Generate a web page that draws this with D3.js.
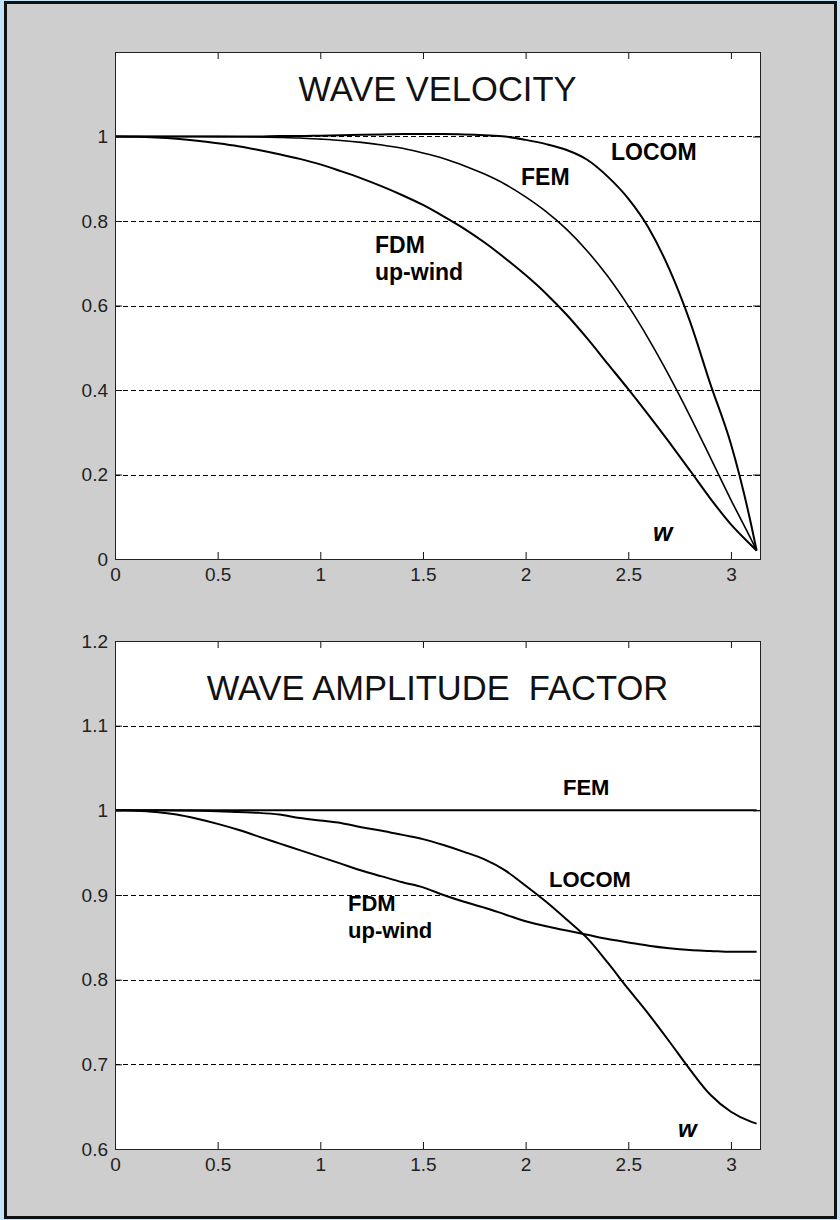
<!DOCTYPE html>
<html>
<head>
<meta charset="utf-8">
<script src="https://cdn.jsdelivr.net/npm/d3@7"></script>
<style>
  html, body { margin: 0; padding: 0; background: #c4e3f8; }
  svg { display: block; }
  text { font-family: "Liberation Sans", Arial, Helvetica, sans-serif; }
</style>
</head>
<body>
<svg id="fig" width="840" height="1220"></svg>
<script>
// Normalised wave number w (0 .. pi)
const omega = [0, 0.1, 0.2, 0.3, 0.4, 0.5, 0.6, 0.7, 0.8, 0.9, 1.0, 1.1, 1.2, 1.3, 1.4, 1.5,
               1.6, 1.7, 1.8, 1.9, 2.0, 2.1, 2.2, 2.3, 2.4, 2.5, 2.6, 2.7, 2.8, 2.9, 3.0, 3.1, 3.125];
const omegaMax = 3.1416;

// Relative wave velocity
const velocityFDM = [1, 0.9994, 0.9975, 0.9944, 0.990, 0.984, 0.977, 0.968, 0.958, 0.947, 0.934, 0.918,
                     0.901, 0.882, 0.861, 0.838, 0.811, 0.782, 0.749, 0.712, 0.672, 0.628, 0.578, 0.522,
                     0.462, 0.402, 0.340, 0.276, 0.210, 0.143, 0.082, 0.032, 0.020];
const velocityFEM = [1, 1, 1, 1, 0.9999, 0.9997, 0.9993, 0.9987, 0.9977, 0.9963, 0.9937, 0.9906,
                     0.9862, 0.980, 0.972, 0.961, 0.948, 0.931, 0.911, 0.887, 0.857, 0.822, 0.780, 0.729,
                     0.669, 0.599, 0.520, 0.433, 0.339, 0.240, 0.140, 0.045, 0.020];
const velocityLOCOM = [1, 1, 1, 1, 1, 1, 1, 1, 1.001, 1.001, 1.002, 1.003, 1.004, 1.005, 1.006, 1.006,
                       1.006, 1.005, 1.003, 1.000, 0.992, 0.982, 0.968, 0.945, 0.905, 0.853, 0.783, 0.686,
                       0.563, 0.414, 0.272, 0.078, 0.020];

// Wave amplitude factor
const amplitudeFDM = [1, 0.9995, 0.998, 0.995, 0.990, 0.984, 0.977, 0.969, 0.961, 0.953, 0.945, 0.937,
                      0.929, 0.922, 0.915, 0.909, 0.900, 0.892, 0.885, 0.877, 0.869, 0.863, 0.858, 0.853,
                      0.848, 0.844, 0.840, 0.837, 0.835, 0.834, 0.833, 0.833, 0.833];
const amplitudeFEM = [1, 1, 1, 1, 1, 1, 1, 1, 1, 1, 1, 1, 1, 1, 1, 1,
                      1, 1, 1, 1, 1, 1, 1, 1, 1, 1, 1, 1, 1, 1, 1, 1, 1];
const amplitudeLOCOM = [1, 1, 1, 0.9998, 0.9995, 0.999, 0.998, 0.997, 0.995, 0.991, 0.988, 0.985,
                        0.980, 0.976, 0.971, 0.966, 0.959, 0.951, 0.942, 0.929, 0.911, 0.892, 0.871, 0.849,
                        0.820, 0.789, 0.759, 0.727, 0.694, 0.664, 0.644, 0.632, 0.630];

// Tick values
const omegaTicks = [0, 0.5, 1, 1.5, 2, 2.5, 3];
const velocityTicks = [0, 0.2, 0.4, 0.6, 0.8, 1];
const velocityGrid = [0.2, 0.4, 0.6, 0.8, 1];
const amplitudeTicks = [0.6, 0.7, 0.8, 0.9, 1, 1.1, 1.2];
const amplitudeGrid = [0.7, 0.8, 0.9, 1, 1.1];

const svg = d3.select("#fig");

// Figure window: grey panel with a dark frame
svg.append("rect")
  .attr("x", 5.5).attr("y", 2.5).attr("width", 830).attr("height", 1215)
  .attr("fill", "#cecece").attr("stroke", "#111").attr("stroke-width", 3);

const left = 115, right = 760;
const fmt = d3.format("~g");

function panel(opt) {
  const x = d3.scaleLinear().domain([0, omegaMax]).range([left, right]);
  const y = d3.scaleLinear().domain(opt.yDomain).range([opt.bottom, opt.top]);
  const g = svg.append("g");

  g.append("rect")
    .attr("x", left).attr("y", opt.top)
    .attr("width", right - left).attr("height", opt.bottom - opt.top)
    .attr("fill", "#fff");

  // dashed horizontal grid
  g.append("g").selectAll("line").data(opt.grid).join("line")
    .attr("x1", left).attr("x2", right)
    .attr("y1", d => Math.round(y(d)) + 0.5).attr("y2", d => Math.round(y(d)) + 0.5)
    .attr("stroke", "#000").attr("stroke-width", 1)
    .attr("stroke-dasharray", "5,3");

  // series
  const line = d3.line()
    .x((d, i) => x(omega[i]))
    .y(d => y(d))
    .curve(d3.curveMonotoneX);
  opt.series.forEach(s => {
    g.append("path").datum(s.values)
      .attr("d", line)
      .attr("fill", "none").attr("stroke", "#000")
      .attr("stroke-width", s.width)
      .attr("stroke-linejoin", "round");
  });

  // axes
  const styleAxis = sel => {
    sel.select(".domain").remove();
    sel.selectAll(".tick line").attr("stroke", "#111");
    sel.selectAll(".tick text").attr("fill", "#222")
      .style("font-size", "19px");
  };
  g.append("g").attr("transform", `translate(0,${opt.bottom})`)
    .call(d3.axisBottom(x).tickValues(omegaTicks).tickFormat(fmt)
      .tickSizeInner(-7).tickSizeOuter(0).tickPadding(9))
    .call(styleAxis);
  g.append("g").attr("transform", `translate(0,${opt.top})`)
    .call(d3.axisTop(x).tickValues(omegaTicks).tickFormat("")
      .tickSizeInner(-7).tickSizeOuter(0))
    .call(styleAxis);
  g.append("g").attr("transform", `translate(${left},0)`)
    .call(d3.axisLeft(y).tickValues(opt.ticks).tickFormat(fmt)
      .tickSizeInner(-7).tickSizeOuter(0).tickPadding(7))
    .call(styleAxis);
  g.append("g").attr("transform", `translate(${right},0)`)
    .call(d3.axisRight(y).tickValues(opt.ticks).tickFormat("")
      .tickSizeInner(-7).tickSizeOuter(0))
    .call(styleAxis);

  // plot box
  g.append("rect")
    .attr("x", left + 0.5).attr("y", opt.top + 0.5)
    .attr("width", right - left).attr("height", opt.bottom - opt.top)
    .attr("fill", "none").attr("stroke", "#222").attr("stroke-width", 1);

  // title
  g.append("text")
    .attr("x", (left + right) / 2).attr("y", opt.titleY)
    .attr("text-anchor", "middle")
    .style("font-size", "34.5px").style("white-space", "pre")
    .attr("fill", "#111")
    .text(opt.title);

  // curve annotations
  opt.labels.forEach(l => {
    g.append("text")
      .attr("x", l.x).attr("y", l.y)
      .style("font-size", l.size + "px")
      .style("font-weight", "bold")
      .style("font-style", l.italic ? "italic" : "normal")
      .attr("fill", "#000")
      .text(l.text);
  });
}

panel({
  top: 52, bottom: 559, yDomain: [0, 1.2],
  ticks: velocityTicks, grid: velocityGrid,
  title: "WAVE VELOCITY", titleY: 101,
  series: [
    { values: velocityFDM, width: 2 },
    { values: velocityFEM, width: 1.6 },
    { values: velocityLOCOM, width: 2 }
  ],
  labels: [
    { text: "LOCOM", x: 611, y: 160, size: 23 },
    { text: "FEM", x: 521, y: 185, size: 23 },
    { text: "FDM", x: 375, y: 253, size: 23 },
    { text: "up-wind", x: 375, y: 280, size: 23 },
    { text: "w", x: 653, y: 541, size: 25, italic: true }
  ]
});

panel({
  top: 641, bottom: 1149, yDomain: [0.6, 1.2],
  ticks: amplitudeTicks, grid: amplitudeGrid,
  title: "WAVE AMPLITUDE  FACTOR", titleY: 700,
  series: [
    { values: amplitudeFDM, width: 2 },
    { values: amplitudeFEM, width: 2 },
    { values: amplitudeLOCOM, width: 2 }
  ],
  labels: [
    { text: "FEM", x: 563, y: 795, size: 22 },
    { text: "LOCOM", x: 549, y: 887, size: 22 },
    { text: "FDM", x: 348, y: 911, size: 22 },
    { text: "up-wind", x: 348, y: 938, size: 22 },
    { text: "w", x: 678, y: 1137, size: 24, italic: true }
  ]
});
</script>
</body>
</html>
